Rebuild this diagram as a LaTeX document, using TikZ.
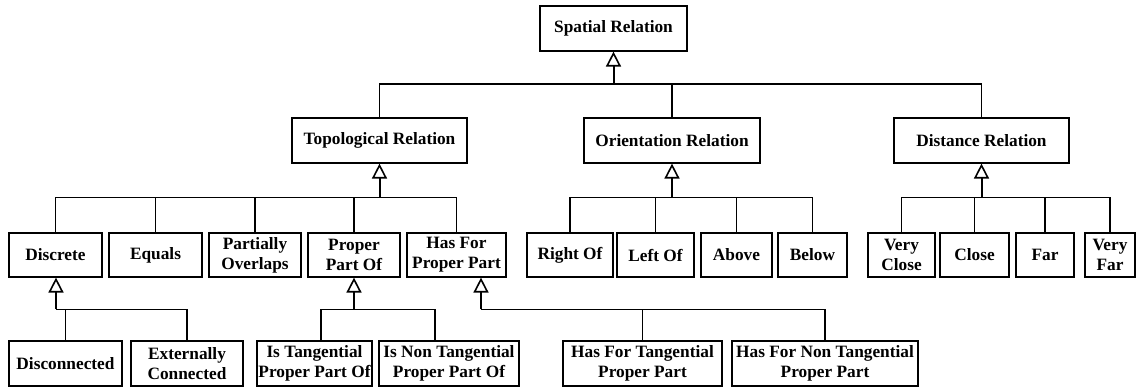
\documentclass[tikz,border=0pt]{standalone}
\usepackage{fontspec}
\setmainfont{Liberation Serif}
\usetikzlibrary{arrows.meta}
\begin{document}
\begin{tikzpicture}[x=1pt,y=-1pt,
  box/.style={draw, line width=1.2pt, inner sep=0pt, align=center,
    minimum height=45pt, font=\bfseries\fontsize{17.3}{19.8}\selectfont},
  link/.style={line width=1.3pt},
  stem/.style={line width=2pt,
    -{Triangle[open, width=15pt, length=15pt, line width=1.6pt]}},
]
\useasboundingbox (0,0) rectangle (1136,387);

% root
\node[box, minimum width=147pt] (spatial) at (613.5,28.5) {Spatial Relation};

% first level
\node[box, minimum width=175pt] (topo)   at (379.5,140.5) {Topological Relation};
\node[box, minimum width=176pt] (orient) at (672,140.5)   {Orientation Relation};
\node[box, minimum width=175pt] (dist)   at (981.5,140.5) {Distance Relation};

% second level
\node[box, minimum width=93pt, minimum height=44pt] (discrete) at (55.5,255)  {Discrete};
\node[box, minimum width=93pt, minimum height=44pt] (equals)   at (155.5,255) {Equals};
\node[box, minimum width=92pt, minimum height=44pt] (partial)  at (255,255)   {Partially\\Overlaps};
\node[box, minimum width=92pt, minimum height=44pt] (ppo)      at (354,255)   {Proper\\Part Of};
\node[box, minimum width=99pt, minimum height=44pt] (hfpp)     at (456.5,255) {Has For\\Proper Part};

\node[box, minimum width=86pt, minimum height=44pt] (rightof) at (570,255)   {Right Of};
\node[box, minimum width=77pt, minimum height=44pt] (leftof)  at (655.5,255) {Left Of};
\node[box, minimum width=71pt, minimum height=44pt] (above)   at (736.5,255) {Above};
\node[box, minimum width=69pt, minimum height=44pt] (below)   at (812.5,255) {Below};

\node[box, minimum width=67pt, minimum height=44pt] (vclose) at (901.5,255) {Very\\Close};
\node[box, minimum width=69pt, minimum height=44pt] (close)  at (974.5,255) {Close};
\node[box, minimum width=58pt, minimum height=44pt] (far)    at (1045,255)  {Far};
\node[box, minimum width=50pt, minimum height=44pt] (vfar)   at (1110,255)  {Very\\Far};

% third level
\node[box, minimum width=113pt] (disc)   at (65.5,363.5)  {Disconnected};
\node[box, minimum width=112pt] (extc)   at (187,363.5)   {Externally\\Connected};
\node[box, minimum width=115pt] (itpp)   at (314.5,363.5) {Is Tangential\\Proper Part Of};
\node[box, minimum width=140pt] (intpp)  at (449,363.5)   {Is Non Tangential\\Proper Part Of};
\node[box, minimum width=159pt] (hftpp)  at (642.5,363.5) {Has For Tangential\\Proper Part};
\node[box, minimum width=186pt] (hfntpp) at (825,363.5)   {Has For Non Tangential\\Proper Part};

% bus junctions
\coordinate (jS)  at (613.5,84);
\coordinate (jT)  at (379.5,197.5);
\coordinate (jO)  at (672,197.5);
\coordinate (jD)  at (981.5,197.5);
\coordinate (jDi) at (56,309.5);
\coordinate (jP)  at (354,309.5);
\coordinate (jH)  at (481,309.5);

% generalisation: root
\draw[stem] (jS) -- (spatial.south);
\foreach \c in {topo,orient,dist} \draw[link] (jS) -| (\c.north);

% topological
\draw[stem] (jT) -- (topo.south);
\foreach \c in {discrete,equals,partial,ppo,hfpp} \draw[link] (jT) -| (\c.north);

% orientation
\draw[stem] (jO) -- (orient.south);
\foreach \c in {rightof,leftof,above,below} \draw[link] (jO) -| (\c.north);

% distance
\draw[stem] (jD) -- (dist.south);
\foreach \c in {vclose,close,far,vfar} \draw[link] (jD) -| (\c.north);

% discrete
\draw[stem] (jDi) -- (jDi |- discrete.south);
\foreach \c in {disc,extc} \draw[link] (jDi) -| (\c.north);

% proper part of
\draw[stem] (jP) -- (ppo.south);
\draw[link] (jP) -| ([xshift=6.5pt]itpp.north);
\draw[link] (jP) -| ([xshift=-14pt]intpp.north);

% has for proper part
\draw[stem] (jH) -- (jH |- hfpp.south);
\foreach \c in {hftpp,hfntpp} \draw[link] (jH) -| (\c.north);
\end{tikzpicture}
\end{document}
